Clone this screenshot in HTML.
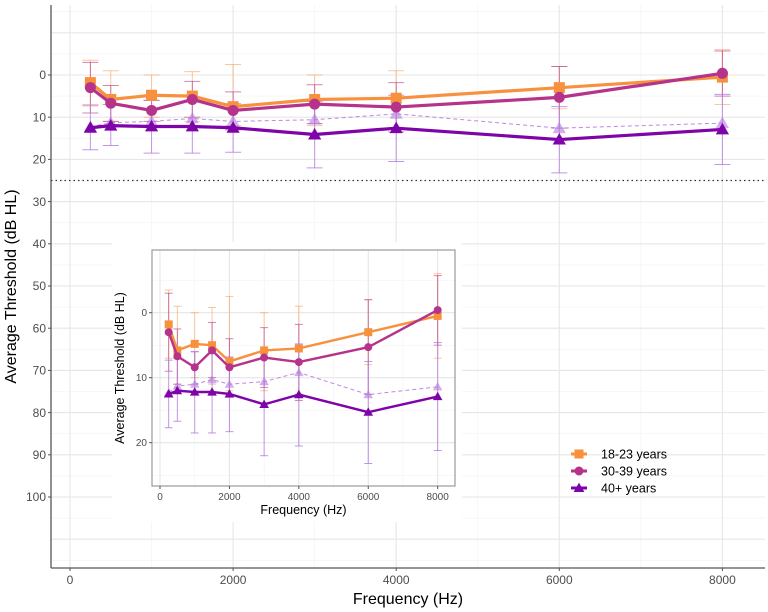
<!DOCTYPE html>
<html><head><meta charset="utf-8"><style>
body{margin:0;background:#fff}svg{display:block;font-family:"Liberation Sans",sans-serif}
</style></head><body>
<svg id="c" width="768" height="612" viewBox="0 0 768 612"></svg>
<script>
const freqs=[250,500,1000,1500,2000,3000,4000,6000,8000];
const g1823=[1.8,5.8,4.8,5.0,7.5,5.8,5.5,3.0,0.5];
const g1823lo=[-3.5,-1,0,-0.8,-2.5,0,-1,-2,-6];
const g1823hi=[7,11,10,11,12,12,12.5,8,7];
const g3039=[3.0,6.7,8.4,5.8,8.4,6.9,7.6,5.3,-0.4];
const g3039lo=[-3,2.5,6,1.5,4,2.3,1.8,-2,-5.7];
const g3039hi=[9,11,11,10,13,11.5,13.5,12.6,5];
const g40=[12.5,12.0,12.2,12.2,12.5,14.1,12.6,15.3,12.9];
const g40lo=[7.3,7,6,6,6.8,6.3,4.8,7.5,4.6];
const g40hi=[17.7,16.7,18.5,18.5,18.3,22,20.5,23.2,21.2];
const g40b=[12.3,11.3,11.0,10.3,11.0,10.6,9.2,12.6,11.4];
const xTicks=[0,2000,4000,6000,8000];
const yTicksMain=[0,10,20,30,40,50,60,70,80,90,100];
const yTicksInset=[0,10,20];
const legendLabels=["18-23 years","30-39 years","40+ years"];

const svg=document.getElementById('c');const NS='http://www.w3.org/2000/svg';
function el(t,a,p){const e=document.createElementNS(NS,t);for(const k in a)e.setAttribute(k,a[k]);(p||svg).appendChild(e);return e;}
const C1='#F7913D',C2='#B5338A',C3='#7E03A8',C4='#B57BE0';

function marker(g,shape,x,y,s,col,op){
  let m;
  if(shape==='sq')m=el('rect',{x:x-s/2,y:y-s/2,width:s,height:s,fill:col},g);
  else if(shape==='ci')m=el('circle',{cx:x,cy:y,r:s/2,fill:col},g);
  else m=el('polygon',{points:`${x},${y-s*0.6} ${x-s*0.6},${y+s*0.45} ${x+s*0.6},${y+s*0.45}`,fill:col},g);
  if(op)m.setAttribute('opacity',op);
  
  
}
function panel(o){
  const g=el('g',{});
  
  
  const X=f=>o.x0+f*o.kx, Y=v=>o.y0+v*o.ky;
  // grids
  for(let f=1000;f<=8000;f+=2000){const x=X(f);if(x>o.l&&x<o.r)el('line',{x1:x,x2:x,y1:o.t,y2:o.b,stroke:'#f2f2f2','stroke-width':0.6},g);}
  for(let v=-15;v<=120;v+=10){const y=Y(v);if(y>o.t&&y<o.b)el('line',{x1:o.l,x2:o.r,y1:y,y2:y,stroke:'#f2f2f2','stroke-width':0.6},g);}
  xTicks.forEach(f=>{const x=X(f);el('line',{x1:x,x2:x,y1:o.t,y2:o.b,stroke:'#e6e6e6','stroke-width':1.1},g);});
  for(let v=-10;v<=120;v+=10){const y=Y(v);if(y>o.t&&y<o.b)el('line',{x1:o.l,x2:o.r,y1:y,y2:y,stroke:'#e6e6e6','stroke-width':1.1},g);}
  if(o.dotted)el('line',{x1:o.l,x2:o.r,y1:Y(25),y2:Y(25),stroke:'#333','stroke-width':1.2,'stroke-dasharray':'1.5 3'},g);
  // error bars
  const eb=(vals,lo,hi,col,op,w)=>{freqs.forEach((f,i)=>{const x=X(f);const a={stroke:col,'stroke-width':w,opacity:op};
    el('line',Object.assign({x1:x,x2:x,y1:Y(lo[i]),y2:Y(hi[i])},a),g);
    el('line',Object.assign({x1:x-o.cap,x2:x+o.cap,y1:Y(lo[i]),y2:Y(lo[i])},a),g);
    el('line',Object.assign({x1:x-o.cap,x2:x+o.cap,y1:Y(hi[i]),y2:Y(hi[i])},a),g);});};
  eb(g1823,g1823lo,g1823hi,C1,0.5,1);
  eb(g3039,g3039lo,g3039hi,C2,0.6,1);
  eb(g40,g40lo,g40hi,C4,0.8,1);
  const line=(vals,col,w,dash,op)=>{const p=el('polyline',{points:freqs.map((f,i)=>X(f)+','+Y(vals[i])).join(' '),fill:'none',stroke:col,'stroke-width':w,'stroke-linejoin':'round'},g);if(dash)p.setAttribute('stroke-dasharray',dash);if(op)p.setAttribute('opacity',op);};
  line(g40b,C4,1,'4 3',0.9);
  freqs.forEach((f,i)=>marker(g,'tr',X(f),Y(g40b[i]),o.ms,C4,0.6));
  line(g1823,C1,o.lw);freqs.forEach((f,i)=>marker(g,'sq',X(f),Y(g1823[i]),o.ms,C1));
  line(g3039,C2,o.lw);freqs.forEach((f,i)=>marker(g,'ci',X(f),Y(g3039[i]),o.ms,C2));
  line(g40,C3,o.lw);freqs.forEach((f,i)=>marker(g,'tr',X(f),Y(g40[i]),o.ms,C3));
  // axes
  if(o.border)el('rect',{x:o.l,y:o.t,width:o.r-o.l,height:o.b-o.t,fill:'none',stroke:'#999','stroke-width':1.2},g);
  else{el('line',{x1:o.l,x2:o.l,y1:o.t,y2:o.b,stroke:'#555','stroke-width':1.3},g);el('line',{x1:o.l,x2:o.r,y1:o.b,y2:o.b,stroke:'#555','stroke-width':1.3},g);}
  xTicks.forEach(f=>{const x=X(f);el('line',{x1:x,x2:x,y1:o.b,y2:o.b+3,stroke:'#555'},g);
    const t=el('text',{x:x,y:o.b+o.fs+4,'text-anchor':'middle','font-size':o.fs,fill:'#4d4d4d'},g);t.textContent=f;});
  o.yt.forEach(v=>{const y=Y(v);el('line',{x1:o.l-3,x2:o.l,y1:y,y2:y,stroke:'#555'},g);
    const t=el('text',{x:o.l-5,y:y+o.fs*0.35,'text-anchor':'end','font-size':o.fs,fill:'#4d4d4d'},g);t.textContent=v;});
  const xt=el('text',{x:(o.l+o.r)/2,y:o.xty,'text-anchor':'middle','font-size':o.tfs,fill:'#000'},g);xt.textContent='Frequency (Hz)';
  
  const yc=(o.t+o.b)/2;const yt=el('text',{x:o.ytx,y:yc,'text-anchor':'middle','font-size':o.tfs,fill:'#000',transform:`rotate(-90 ${o.ytx} ${yc})`},g);yt.textContent='Average Threshold (dB HL)';
  
  return g;
}
panel({name:'main-panel',l:51,r:765,t:5,b:568,x0:70,kx:0.08155,y0:75,ky:4.22,cap:8,ms:11,lw:3.2,fs:12,tfs:16,yt:yTicksMain,xty:604,ytx:16,dotted:true});
const bg=el('rect',{x:112,y:242,width:350,height:280,fill:'#fff'});

panel({name:'inset-panel',l:152,r:455,t:250,b:486,x0:160,kx:0.03471,y0:312.7,ky:6.5,cap:4,ms:8,lw:2.4,fs:10,tfs:12.5,yt:yTicksInset,xty:514,ytx:124,border:true});
// legend
const lg=el('g',{});
const shapes=['sq','ci','tr'],cols=[C1,C2,C3];
legendLabels.forEach((s,i)=>{const y=454+i*17;
  el('line',{x1:571,x2:587,y1:y,y2:y,stroke:cols[i],'stroke-width':3},lg);
  marker(lg,shapes[i],579,y,9,cols[i]);
  const t=el('text',{x:601,y:y+4.5,'font-size':12.5,fill:'#000'},lg);t.textContent=s;
  });
</script>
</body></html>
